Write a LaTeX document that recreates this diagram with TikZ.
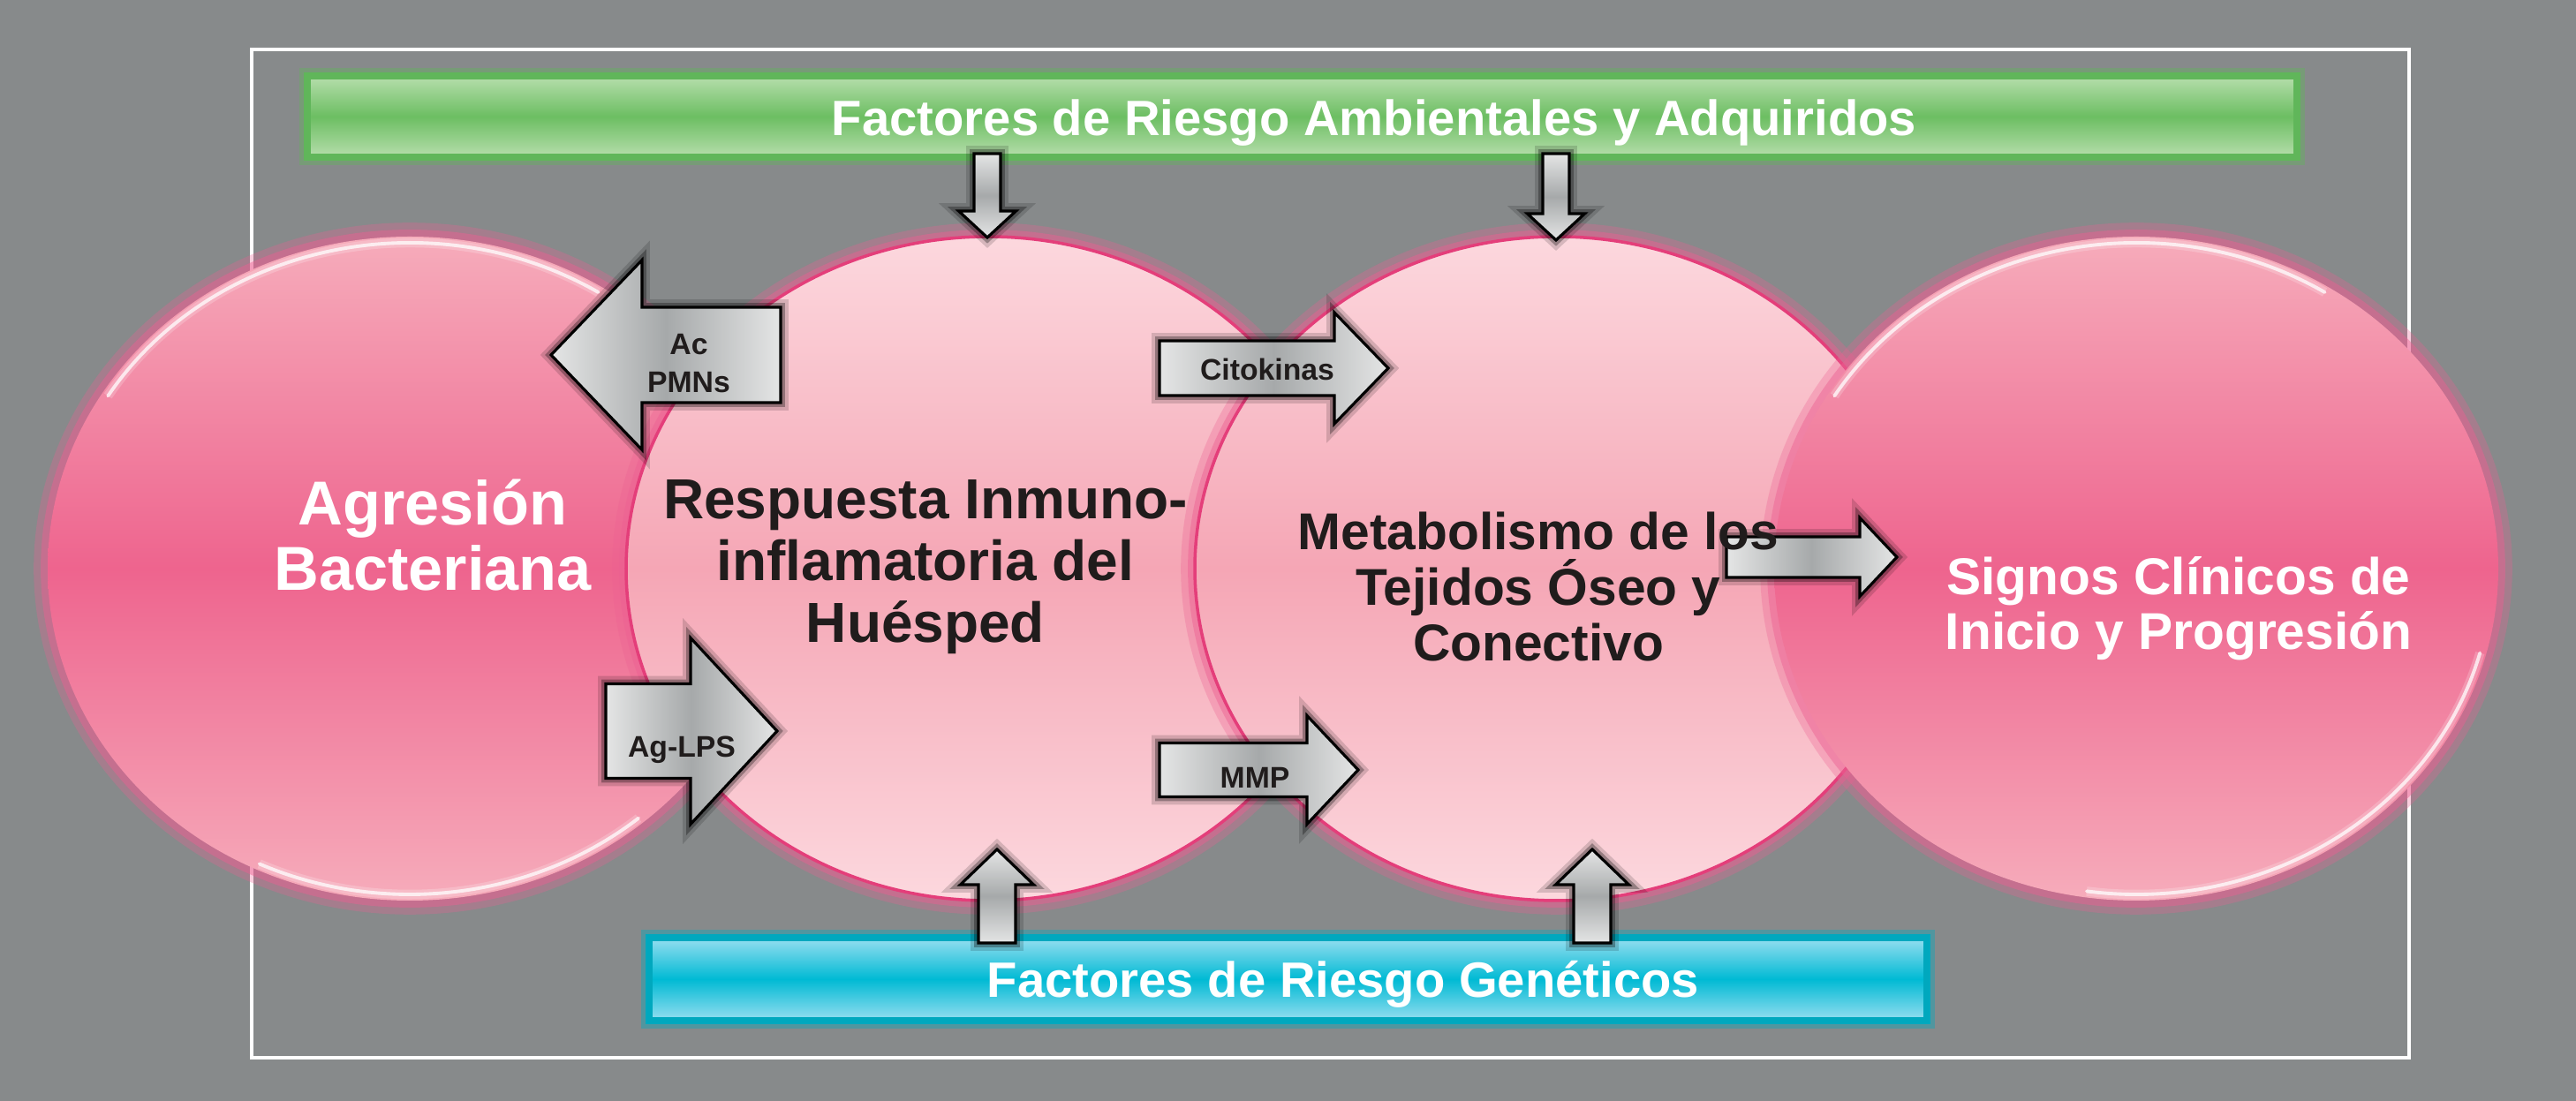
\documentclass[tikz,border=0pt]{standalone}
\usepackage{fontspec}
\setmainfont{Liberation Sans}
\usetikzlibrary{shapes.geometric}

\definecolor{bggray}{RGB}{135,138,139}
\definecolor{darktop}{RGB}{246,172,187}
\definecolor{darkmid}{RGB}{238,100,142}
\definecolor{lighttop}{RGB}{252,216,222}
\definecolor{lightmid}{RGB}{245,166,181}
\definecolor{edgepink}{RGB}{228,62,122}
\definecolor{glowpink}{RGB}{236,96,146}
\definecolor{greenedge}{RGB}{96,182,90}
\definecolor{greentop}{RGB}{182,222,172}
\definecolor{greenmid}{RGB}{108,190,98}
\definecolor{cyanedge}{RGB}{0,168,190}
\definecolor{cyantop}{RGB}{150,222,240}
\definecolor{cyanmid}{RGB}{0,186,212}
\definecolor{arrowlight}{RGB}{228,229,229}
\definecolor{arrowdark}{RGB}{166,169,170}
\definecolor{labelink}{RGB}{32,28,28}

% block arrow along x: tail x, neck x, tip x, axis y, half body, half head
\newcommand{\harrow}[6]{%
  \draw[blockarrow, left color=arrowlight, right color=arrowlight, middle color=arrowdark]
    (#1,#4-#5) -- (#2,#4-#5) -- (#2,#4-#6) -- (#3,#4)
    -- (#2,#4+#6) -- (#2,#4+#5) -- (#1,#4+#5) -- cycle;}
% block arrow along y: axis x, tail y, neck y, tip y, half body, half head
\newcommand{\varrow}[6]{%
  \draw[blockarrow, top color=arrowlight, bottom color=arrowlight, middle color=arrowdark]
    (#1-#5,#2) -- (#1-#5,#3) -- (#1-#6,#3) -- (#1,#4)
    -- (#1+#6,#3) -- (#1+#5,#3) -- (#1+#5,#2) -- cycle;}

\begin{document}
\begin{tikzpicture}[
    blockarrow/.style={draw=black, line width=0.9pt, line join=miter,
        preaction={draw=black, line width=5pt, opacity=0.15},
        preaction={draw=black, line width=2.8pt, opacity=0.3}},
    bubble/.style={ellipse, minimum width=8.2cm, minimum height=7.52cm, inner sep=0pt,
        preaction={draw=glowpink, line width=9pt, opacity=0.3},
        preaction={draw=glowpink, line width=4.5pt, opacity=0.45}},
    darkbubble/.style={bubble, top color=darktop, bottom color=darktop, middle color=darkmid},
    lightbubble/.style={bubble, top color=lighttop, bottom color=lighttop, middle color=lightmid,
        draw=edgepink, line width=1pt},
    rim/.style={draw=white, line width=1.1pt, opacity=0.75, line cap=round,
        preaction={draw=white, line width=3pt, opacity=0.2}},
    bar/.style={rectangle, inner sep=0pt, line width=2.4pt},
    bartext/.style={anchor=base, inner sep=0pt, text=white, font=\bfseries\fontsize{16}{19}\selectfont}]

    \useasboundingbox (0,0) rectangle (29.17,12.47);
    \fill[bggray] (0,0) rectangle (29.17,12.47);
    \draw[white, line width=1.2pt] (2.85,0.49) rectangle (27.28,11.91);

    \begin{scope}[every node/.style={bar}]
        \node[draw=greenedge, top color=greentop, bottom color=greentop, middle color=greenmid,
              minimum width=22.53cm, minimum height=0.915cm,
              preaction={draw=greenedge, line width=5pt, opacity=0.4}] (ambiental) at (14.745,11.15) {};
        \node[draw=cyanedge, top color=cyantop, bottom color=cyantop, middle color=cyanmid,
              minimum width=14.465cm, minimum height=0.935cm,
              preaction={draw=cyanedge, line width=5pt, opacity=0.4}] (genetico) at (14.585,1.38) {};
    \end{scope}

    \node[bartext] (ambtxt) at (15.56,10.93) {Factores de Riesgo Ambientales y Adquiridos};
    \node[bartext] (gentxt) at (15.21,1.17) {Factores de Riesgo Genéticos};

    \node[darkbubble]  (agresion)    at (4.64,6.03)  {};
    \node[lightbubble] (respuesta)   at (11.19,6.03) {};
    \node[lightbubble] (metabolismo) at (17.63,6.03) {};
    \node[darkbubble]  (signos)      at (24.19,6.03) {};

    \draw[rim] (agresion.center) ++(58:4.03cm and 3.69cm)
        arc[start angle=58, end angle=148, x radius=4.03cm, y radius=3.69cm];
    \draw[rim] (agresion.center) ++(-115:4.03cm and 3.69cm)
        arc[start angle=-115, end angle=-50, x radius=4.03cm, y radius=3.69cm];
    \draw[rim] (signos.center) ++(58:4.03cm and 3.69cm)
        arc[start angle=58, end angle=148, x radius=4.03cm, y radius=3.69cm];
    \draw[rim] (signos.center) ++(-98:4.03cm and 3.69cm)
        arc[start angle=-98, end angle=-15, x radius=4.03cm, y radius=3.69cm];

    \harrow{8.84}{7.27}{6.24}{8.45}{0.54}{1.075}
    \harrow{13.13}{15.11}{15.72}{8.30}{0.31}{0.63}
    \harrow{6.86}{7.82}{8.80}{4.19}{0.535}{1.055}
    \harrow{13.13}{14.80}{15.38}{3.75}{0.305}{0.615}
    \harrow{19.55}{21.06}{21.48}{6.16}{0.23}{0.445}
    \varrow{11.18}{10.73}{10.08}{9.78}{0.15}{0.325}
    \varrow{17.62}{10.73}{10.05}{9.75}{0.15}{0.325}
    \varrow{11.29}{1.79}{2.45}{2.85}{0.21}{0.415}
    \varrow{18.03}{1.79}{2.45}{2.85}{0.21}{0.415}

    \begin{scope}[every node/.style={inner sep=0pt, align=center}]
        \node[text=white, font=\bfseries\fontsize{20}{21}\selectfont] (agrtxt) at (4.90,6.41)
            {Agresión\\Bacteriana};
        \node[text=labelink, font=\bfseries\fontsize{18.2}{19.9}\selectfont] (resptxt) at (10.48,6.05)
            {Respuesta Inmuno-\\inflamatoria del\\Huésped};
        \node[text=labelink, font=\bfseries\fontsize{16.7}{17.9}\selectfont] (metabtxt) at (17.42,5.825)
            {Metabolismo de los\\Tejidos Óseo y\\Conectivo};
        \node[text=white, font=\bfseries\fontsize{16.7}{17.6}\selectfont] (signtxt) at (24.67,5.58)
            {Signos Clínicos de\\Inicio y Progresión};
    \end{scope}

    \begin{scope}[every node/.style={inner sep=0pt, align=center, text=labelink,
                  font=\bfseries\fontsize{9.6}{12.2}\selectfont}]
        \node (acpmn) at (7.80,8.35) {Ac\\PMNs};
        \node[anchor=base] (citok) at (14.35,8.16) {Citokinas};
        \node[anchor=base] (aglps) at (7.72,3.89) {Ag-LPS};
        \node[anchor=base] (mmp)   at (14.21,3.54) {MMP};
    \end{scope}
\end{tikzpicture}
\end{document}
